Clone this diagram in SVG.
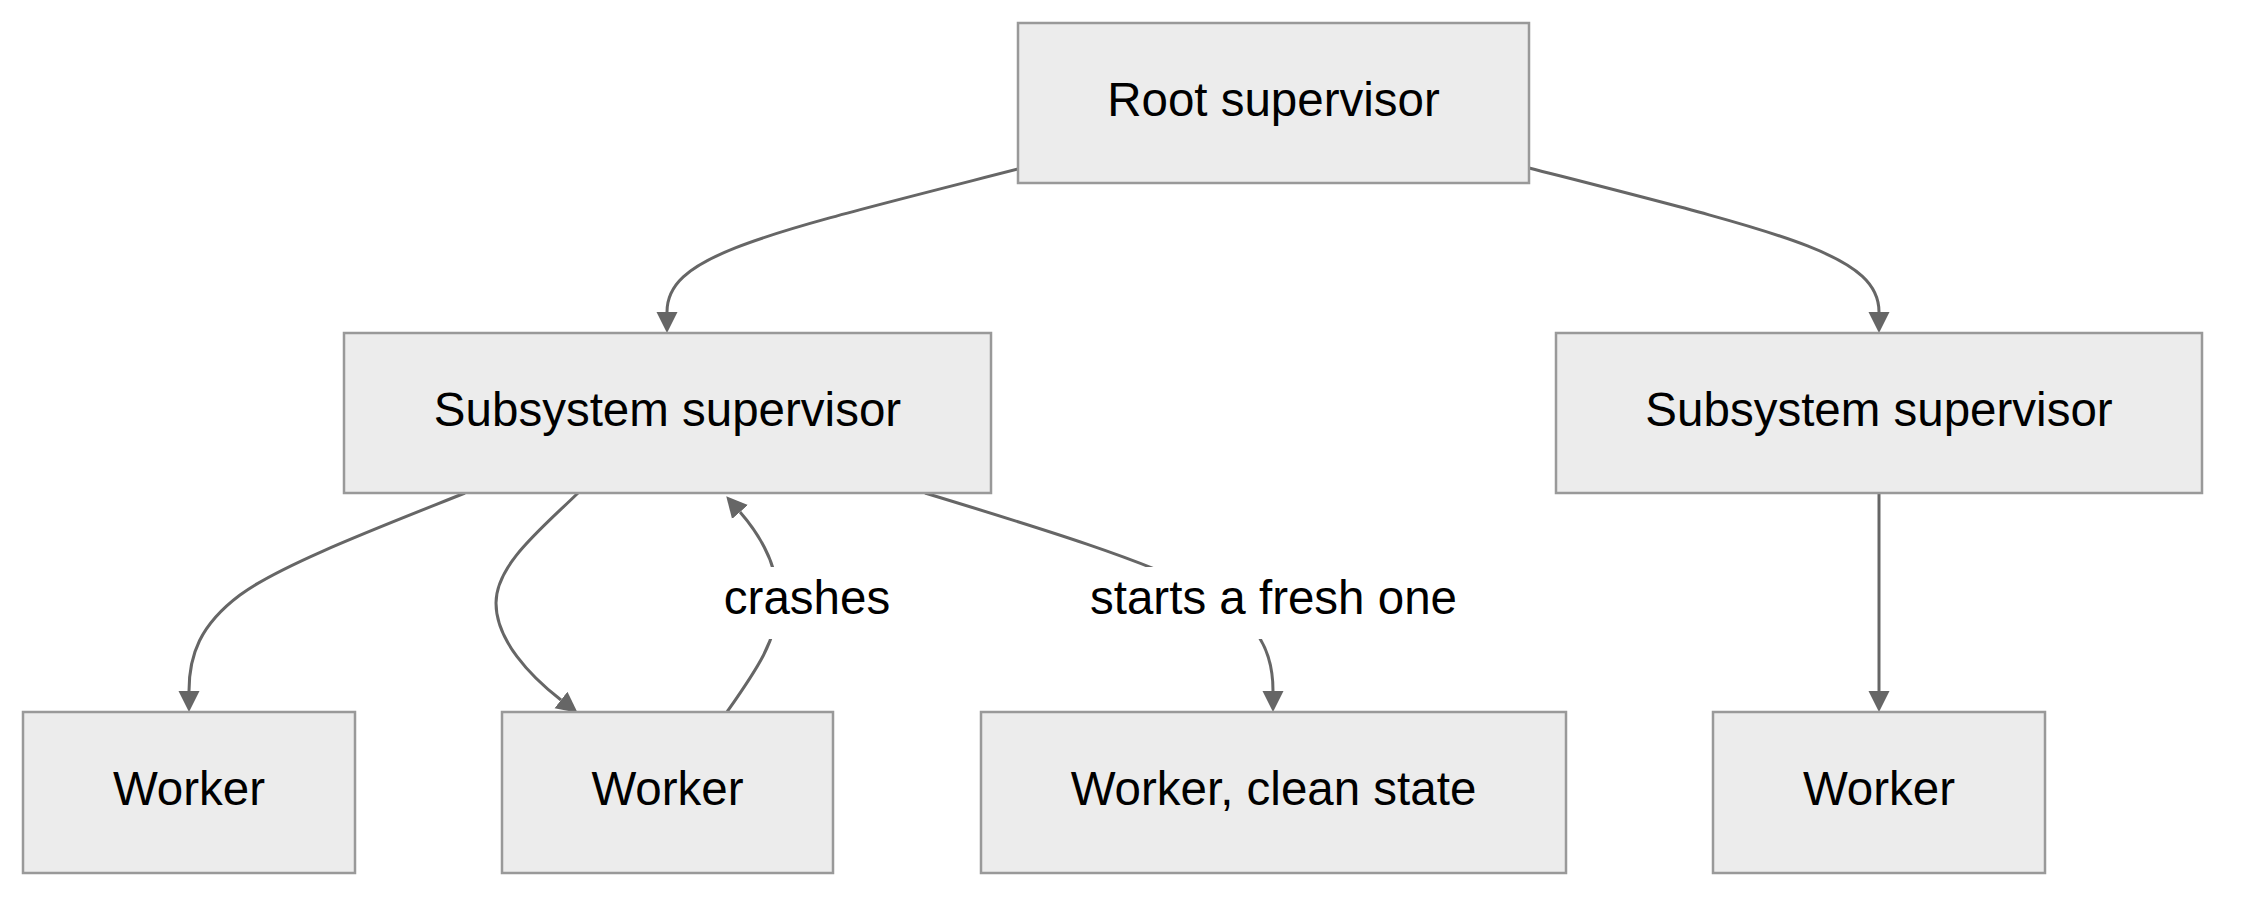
<svg xmlns="http://www.w3.org/2000/svg" width="2250" height="906" viewBox="0 0 2250 906">
  <style>
    .node rect { fill: #ececec; stroke: #999999; stroke-width: 2.5; }
    .node text, .label text { font-family: "Liberation Sans", Arial, sans-serif; font-size: 47.5px; fill: #000; text-anchor: middle; }
    .edge { fill: none; stroke: #666666; stroke-width: 3; }
    .label rect { fill: #ffffff; stroke: none; }
  </style>
  <defs>
    <marker id="arrow" viewBox="0 0 10 10" refX="0" refY="5" markerUnits="userSpaceOnUse" markerWidth="21" markerHeight="23" orient="auto">
      <path d="M0,0 L10,5 L0,10 z" fill="#666666"/>
    </marker>
  </defs>
  <rect x="0" y="0" width="2250" height="906" fill="#ffffff"/>

  <g id="connectors">
    <path class="edge" d="M1018,169 C 760,235 667,255 667,312" marker-end="url(#arrow)"/>
    <path class="edge" d="M1529,168 C 1787,234 1879,255 1879,312" marker-end="url(#arrow)"/>
    <path class="edge" d="M465,493 C 380,527 280,565 240,595 C 200,625 189,655 189,691" marker-end="url(#arrow)"/>
    <path class="edge" d="M578,493 C 540,530 496,565 496,603 C 496,640 530,676 561,700" marker-end="url(#arrow)"/>
    <path class="edge" d="M727,712 C 755,672 778,640 778,601 C 778,565 760,535 740,512" marker-end="url(#arrow)"/>
    <path class="edge" d="M925,493 C 1040,528 1150,562 1200,590 C 1250,618 1273,640 1273,691" marker-end="url(#arrow)"/>
    <path class="edge" d="M1879,493 L1879,691" marker-end="url(#arrow)"/>
    <g class="label" id="label-crashes">
      <rect x="718" y="567" width="180" height="72"/>
      <text x="807" y="614">crashes</text>
    </g>
    <g class="label" id="label-fresh">
      <rect x="1082" y="567" width="383" height="72"/>
      <text x="1273.5" y="614">starts a fresh one</text>
    </g>
  </g>

  <g id="root" class="node">
    <rect x="1018" y="23" width="511" height="160"/>
    <text x="1273.5" y="116">Root supervisor</text>
  </g>
  <g id="sub1" class="node">
    <rect x="344" y="333" width="647" height="160"/>
    <text x="667.5" y="426">Subsystem supervisor</text>
  </g>
  <g id="sub2" class="node">
    <rect x="1556" y="333" width="646" height="160"/>
    <text x="1879" y="426">Subsystem supervisor</text>
  </g>
  <g id="worker1" class="node">
    <rect x="23" y="712" width="332" height="161"/>
    <text x="189" y="805">Worker</text>
  </g>
  <g id="worker2" class="node">
    <rect x="502" y="712" width="331" height="161"/>
    <text x="667.5" y="805">Worker</text>
  </g>
  <g id="worker-clean" class="node">
    <rect x="981" y="712" width="585" height="161"/>
    <text x="1273.5" y="805">Worker, clean state</text>
  </g>
  <g id="worker4" class="node">
    <rect x="1713" y="712" width="332" height="161"/>
    <text x="1879" y="805">Worker</text>
  </g>
</svg>
